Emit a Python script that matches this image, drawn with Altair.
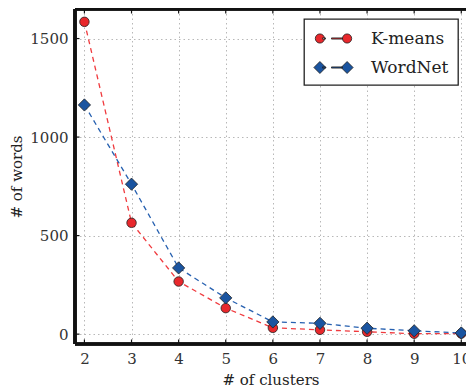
import altair as alt
import pandas as pd

clusters = [2, 3, 4, 5, 6, 7, 8, 9, 10]
kmeans = [1585, 565, 267, 132, 32, 22, 12, 2, 3]
wordnet = [1163, 761, 336, 184, 62, 55, 30, 17, 6]
series_names = ["K-means", "WordNet"]
x_ticks = [2, 3, 4, 5, 6, 7, 8, 9, 10]
y_ticks = [0, 500, 1000, 1500]

fill_colors = ["#e8282c", "#1a54a0"]
line_colors = ["#f03a3e", "#2660b0"]

rows = []
for c, k, w in zip(clusters, kmeans, wordnet):
    rows.append({"clusters": c, "words": k, "series": series_names[0]})
    rows.append({"clusters": c, "words": w, "series": series_names[1]})
df = pd.DataFrame(rows)

X_DOM = [1.8, 10.1]
Y_DOM = [-50, 1650]
FONT = "DejaVu Serif"

xs = alt.Scale(domain=X_DOM, nice=False, zero=False)
ys = alt.Scale(domain=Y_DOM, nice=False, zero=False)

xenc = alt.X("clusters:Q", scale=xs,
             axis=alt.Axis(values=x_ticks, title="# of clusters", grid=True, format="d"))
yenc = alt.Y("words:Q", scale=ys,
             axis=alt.Axis(values=y_ticks, title="# of words", grid=True, format="d"))

base = alt.Chart(df)

lines = base.mark_line(strokeDash=[5, 4], strokeWidth=1.3).encode(
    x=xenc, y=yenc,
    color=alt.Color("series:N", scale=alt.Scale(domain=series_names, range=line_colors), legend=None),
    detail="series:N",
)

points = base.mark_point(filled=True, stroke="#222222", strokeWidth=0.8, opacity=1).encode(
    x=xenc, y=yenc,
    fill=alt.Fill("series:N", scale=alt.Scale(domain=series_names, range=fill_colors), legend=None),
    shape=alt.Shape("series:N", scale=alt.Scale(domain=series_names, range=["circle", "diamond"]), legend=None),
    size=alt.Size("series:N", scale=alt.Scale(domain=series_names, range=[90, 150]), legend=None),
)

# composite legend glyphs: marker - dash - marker (unit = half the nominal symbol width)
circ = lambda cx, r: f"M{cx - r},0A{r},{r} 0 1,0 {cx + r},0A{r},{r} 0 1,0 {cx - r},0Z"
diam = lambda cx, r: f"M{cx},{-r}L{cx + r},0L{cx},{r}L{cx - r},0Z"
dash = "M-0.1,-0.06L0.2,-0.06L0.2,0.06L-0.1,0.06ZM0.8,-0.06L1.9,-0.06L1.9,0.06L0.8,0.06Z"
legend_paths = [circ(-0.36, 0.46) + circ(2.36, 0.46) + dash,
                diam(-0.36, 0.6) + diam(2.36, 0.6) + dash]

legend_layer = base.transform_filter("false").mark_point(
    filled=True, stroke="#222222", strokeWidth=0.8, opacity=1
).encode(
    x=xenc, y=yenc,
    fill=alt.Fill("series:N", scale=alt.Scale(domain=series_names, range=fill_colors),
                  legend=alt.Legend(title=None)),
    shape=alt.Shape("series:N", scale=alt.Scale(domain=series_names, range=legend_paths),
                    legend=alt.Legend(title=None)),
)

tick_df = pd.DataFrame({"t": x_ticks})
ytick_df = pd.DataFrame({"t": y_ticks})
tick_style = dict(size=9, thickness=1.2, color="#111", clip=True, opacity=1)
xt_bottom = alt.Chart(tick_df).mark_tick(orient="vertical", **tick_style).encode(
    x=alt.X("t:Q", scale=xs), y=alt.Y(datum=Y_DOM[0], scale=ys))
xt_top = alt.Chart(tick_df).mark_tick(orient="vertical", **tick_style).encode(
    x=alt.X("t:Q", scale=xs), y=alt.Y(datum=Y_DOM[1], scale=ys))
yt_left = alt.Chart(ytick_df).mark_tick(orient="horizontal", **tick_style).encode(
    y=alt.Y("t:Q", scale=ys), x=alt.X(datum=X_DOM[0], scale=xs))

frame_style = dict(color="#111111", strokeWidth=2.6)
frame_bottom = alt.Chart(tick_df).mark_rule(**frame_style).encode(y=alt.Y(datum=Y_DOM[0], scale=ys))
frame_top = alt.Chart(tick_df).mark_rule(**frame_style).encode(y=alt.Y(datum=Y_DOM[1], scale=ys))
frame_left = alt.Chart(tick_df).mark_rule(**frame_style).encode(x=alt.X(datum=X_DOM[0], scale=xs))

chart = alt.layer(
    lines, points, legend_layer, xt_bottom, xt_top, yt_left, frame_bottom, frame_top, frame_left
).resolve_scale(
    shape="independent", fill="independent"
).properties(
    width=391, height=335,
    autosize=alt.AutoSizeParams(type="none"),
    padding={"left": 67, "top": 1, "right": 0, "bottom": 46},
).configure_view(
    stroke=None
).configure_axis(
    domain=False, ticks=False,
    gridColor="#b8b8b8", gridDash=[1.5, 3], gridWidth=1,
    labelFont=FONT, labelFontSize=15, labelColor="#333333", labelPadding=7,
    titleFont=FONT, titleFontSize=15, titleFontWeight="normal", titleColor="#222222",
).configure_axisY(titlePadding=5).configure_axisX(titlePadding=6).configure_legend(
    orient="none", legendX=229, legendY=10,
    strokeColor="#222222", strokeWidth=1.3, fillColor="white", padding=9, cornerRadius=0,
    symbolSize=400, labelOffset=37, labelFont=FONT, labelFontSize=17, labelColor="#222222",
    rowPadding=10, symbolStrokeWidth=0.8,
)

chart.save("out.html", embed_options={"renderer": "svg", "actions": False})
